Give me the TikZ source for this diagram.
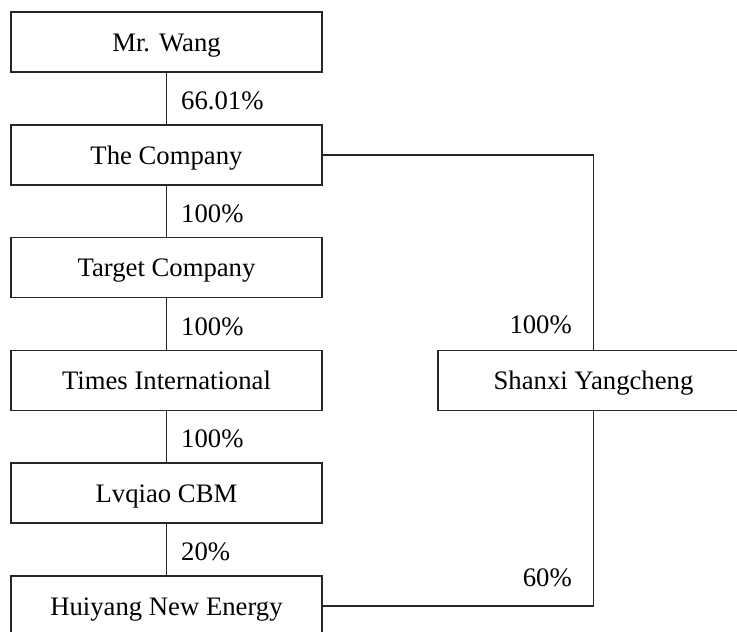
\documentclass[tikz,border=0pt]{standalone}
\usepackage{fontspec}
\setmainfont{Liberation Serif}
\usepackage{tikz}

\begin{document}
\begin{tikzpicture}[x=1pt,y=-1pt,line width=1.4pt,draw=black!85,
  font=\fontsize{26.7}{30}\selectfont,
  box/.style={draw,minimum width=311pt,minimum height=60pt,inner sep=0pt,
    text height=18pt,text depth=0pt},
  pct/.style={right,inner sep=0pt,xshift=14pt,yshift=-2pt,text height=18pt,text depth=0pt},
  pctl/.style={left,inner sep=0pt,xshift=-21pt,text height=18pt,text depth=0pt}]
 \useasboundingbox (0,0) rectangle (737,632);
 \clip (0,0) rectangle (737,632);
 % left column
 \node[box] (wang) at (166.5,42) {Mr. Wang};
 \node[box] (company) at (166.5,155) {The Company};
 \node[box] (target) at (166.5,267.5) {Target Company};
 \node[box] (times) at (166.5,380.5) {Times International};
 \node[box] (lvqiao) at (166.5,493) {Lvqiao CBM};
 \node[box] (huiyang) at (166.5,606) {Huiyang New Energy};
 % right
 \node[box] (shanxi) at (593.5,380.5) {Shanxi Yangcheng};
 \draw (wang) -- node[pct]{66.01\%} (company);
 \draw (company) -- node[pct]{100\%} (target);
 \draw (target) -- node[pct]{100\%} (times);
 \draw (times) -- node[pct]{100\%} (lvqiao);
 \draw (lvqiao) -- node[pct]{20\%} (huiyang);
 \draw (company.east) -| node[pos=0.936,pctl]{100\%} (shanxi.north);
 \draw (huiyang.east) -| node[pos=0.572,pctl]{60\%} (shanxi.south);
\end{tikzpicture}
\end{document}
